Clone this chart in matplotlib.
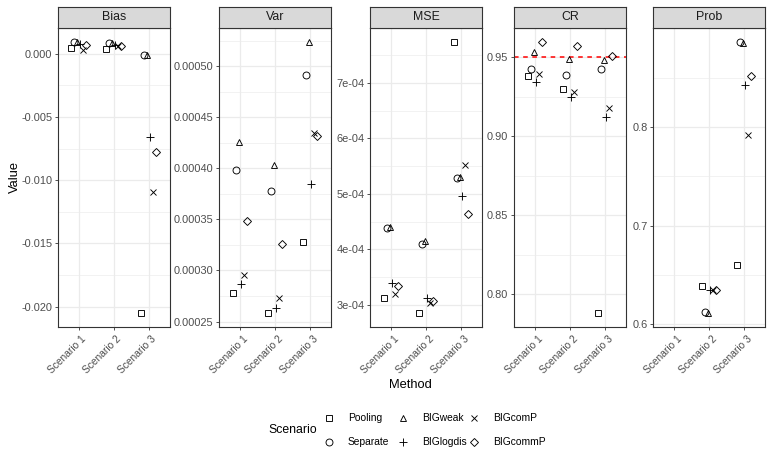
import numpy as np
import matplotlib
matplotlib.use('Agg')
import matplotlib.pyplot as plt
from matplotlib.ticker import FixedLocator, MultipleLocator, FuncFormatter
from matplotlib.transforms import ScaledTranslation

plt.rcParams['font.family'] = ['Liberation Sans', 'DejaVu Sans']
plt.rcParams['axes.unicode_minus'] = False

scenarios = ["Scenario 1", "Scenario 2", "Scenario 3"]
methods = ["Pooling", "Separate", "BIGweak", "BIGlogdis", "BIGcomP", "BIGcommP"]
markers = ["s", "o", "^", "+", "x", "D"]
metrics = ["Bias", "Var", "MSE", "CR", "Prob"]

# one row per method, one column per scenario
bias = [
	[0.00044, 0.00040, -0.02053],
	[0.00092, 0.00087, -0.00008],
	[0.00097, 0.00083, -0.00013],
	[0.00075, 0.00072, -0.00660],
	[0.00034, 0.00060, -0.01095],
	[0.00073, 0.00066, -0.00777],
]
var = [
	[0.000278, 0.000258, 0.000328],
	[0.000398, 0.000378, 0.000491],
	[0.000426, 0.000403, 0.000524],
	[0.000287, 0.000263, 0.000385],
	[0.000296, 0.000273, 0.000435],
	[0.000348, 0.000326, 0.000432],
]
mse = [
	[3.12e-4, 2.84e-4, 7.75e-4],
	[4.39e-4, 4.10e-4, 5.28e-4],
	[4.40e-4, 4.15e-4, 5.30e-4],
	[3.39e-4, 3.12e-4, 4.96e-4],
	[3.19e-4, 3.02e-4, 5.52e-4],
	[3.34e-4, 3.06e-4, 4.63e-4],
]
cr = [
	[0.9380, 0.9300, 0.7880],
	[0.9428, 0.9390, 0.9428],
	[0.9534, 0.9490, 0.9485],
	[0.9342, 0.9250, 0.9123],
	[0.9392, 0.9280, 0.9180],
	[0.9600, 0.9570, 0.9510],
]
prob = [
	[np.nan, 0.6390, 0.6600],
	[np.nan, 0.6128, 0.8865],
	[np.nan, 0.6110, 0.8855],
	[np.nan, 0.6350, 0.8430],
	[np.nan, 0.6350, 0.7920],
	[np.nan, 0.6345, 0.8520],
]
cr_target = 0.95

panel_data = [bias, var, mse, cr, prob]
panel_ticks = [
	[-0.020, -0.015, -0.010, -0.005, 0.000],
	[0.00025, 0.00030, 0.00035, 0.00040, 0.00045, 0.00050],
	[3e-4, 4e-4, 5e-4, 6e-4, 7e-4],
	[0.80, 0.85, 0.90, 0.95],
	[0.6, 0.7, 0.8],
]


def fmt_fixed(nd):
	def f(v, pos):
		if abs(v) < 1e-12:
			v = 0.0
		return "%.*f" % (nd, v)
	return f


def fmt_sci(v, pos):
	return "%.0e" % v


panel_fmt = [fmt_fixed(3), fmt_fixed(5), fmt_sci, fmt_fixed(2), fmt_fixed(1)]

W, H = 771, 455
fig = plt.figure(figsize=(W / 100, H / 100), dpi=100)

lefts = [57.7, 219, 370, 514, 653]
pw = 112
top, strip_h, bottom = 7, 21, 327
dodge = 0.5
grey20 = '#333333'
msize = {'s': 4.8, 'o': 5.0, '^': 5.0, '+': 5.6, 'x': 4.6, 'D': 4.4}

for i, name in enumerate(metrics):
	x0 = lefts[i]
	ax = fig.add_axes([x0 / W, 1 - bottom / H, pw / W, (bottom - top - strip_h) / H])
	sax = fig.add_axes([x0 / W, 1 - (top + strip_h) / H, pw / W, strip_h / H])
	sax.set_facecolor('#D9D9D9')
	sax.set_xticks([])
	sax.set_yticks([])
	for sp in sax.spines.values():
		sp.set_color(grey20)
		sp.set_linewidth(0.8)
	sax.text(0.5, 0.5, name, ha='center', va='center', fontsize=8.9, color='#1A1A1A',
		transform=sax.transAxes)

	data = panel_data[i]
	allv = np.array(data, dtype=float)
	for k, m in enumerate(methods):
		xs = np.arange(1, 4) + (k - 2.5) * dodge / 6
		ax.plot(xs, data[k], linestyle='none', marker=markers[k], markersize=msize[markers[k]],
			markerfacecolor='none', markeredgecolor='black', markeredgewidth=0.65, zorder=3)

	lo, hi = np.nanmin(allv), np.nanmax(allv)
	pad = (hi - lo) * 0.05
	ax.set_ylim(lo - pad, hi + pad)
	ax.set_xlim(0.4, 3.6)

	if name == "CR":
		ax.axhline(cr_target, color='#FF0000', linewidth=1.1, linestyle=(0, (3, 3)), zorder=2)

	ax.yaxis.set_major_locator(FixedLocator(panel_ticks[i]))
	ax.yaxis.set_major_formatter(FuncFormatter(panel_fmt[i]))
	step = panel_ticks[i][1] - panel_ticks[i][0]
	ax.yaxis.set_minor_locator(MultipleLocator(step / 2))
	ax.set_xticks([1, 2, 3])
	ax.set_xticklabels([])
	# rotated scenario labels, placed like ggplot's angle=45, hjust=1
	shift = ScaledTranslation(2.5 / 100, -7 / 100, fig.dpi_scale_trans)
	for j, s in enumerate(scenarios):
		ax.text(j + 1, 0, s, rotation=45, ha='right', va='top', rotation_mode='anchor',
			fontsize=7.4, color='#4D4D4D', transform=ax.get_xaxis_transform() + shift)

	ax.grid(which='major', color='#EBEBEB', linewidth=0.9, zorder=0)
	ax.grid(which='minor', axis='y', color='#EBEBEB', linewidth=0.45, zorder=0)
	ax.set_axisbelow(True)
	ax.tick_params(which='major', length=2.5, width=0.6, color=grey20, labelsize=7.9,
		labelcolor='#4D4D4D', pad=1.5)
	ax.tick_params(which='minor', length=0)
	for sp in ax.spines.values():
		sp.set_color(grey20)
		sp.set_linewidth(0.8)

# axis titles
fig.text(15 / W, 1 - 177 / H, "Value", rotation=90, ha='center', va='center', fontsize=9.3)
fig.text(410 / W, 1 - 385 / H, "Method", ha='center', va='center', fontsize=9.3)

# legend
lax = fig.add_axes([0, 0, 1, 1])
lax.set_xlim(0, W)
lax.set_ylim(H, 0)
lax.axis('off')
lax.text(292.5, 430, "Scenario", ha='center', va='center', fontsize=8.8)
col_x = [329, 402.7, 474]
row_y = [418, 442]
for k, m in enumerate(methods):
	cx = col_x[k // 2]
	cy = row_y[k % 2]
	lax.plot([cx], [cy], linestyle='none', marker=markers[k], markersize=msize[markers[k]],
		markerfacecolor='none', markeredgecolor='black', markeredgewidth=0.65)
	lax.text(cx + 19, cy, m, ha='left', va='center', fontsize=7.4)

fig.savefig('out.png', dpi=100)
